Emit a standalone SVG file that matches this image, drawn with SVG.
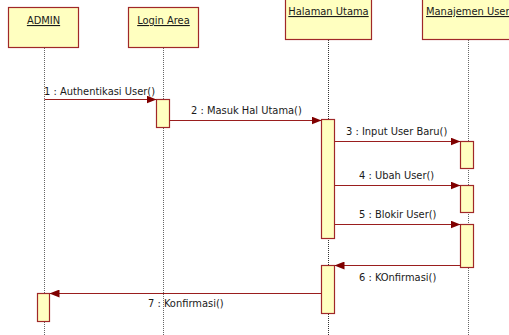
<svg xmlns="http://www.w3.org/2000/svg" width="509" height="335" viewBox="0 0 509 335">
  <style>
    .obj { fill: #FFFFC0; stroke: #A02828; stroke-width: 1.2; }
    .act { fill: #FFFFC0; stroke: #A02828; stroke-width: 1.2; }
    .life { stroke: #666; stroke-width: 1; stroke-dasharray: 1 1; fill: none; }
    .msg { stroke: #9A1E1E; stroke-width: 1; fill: none; }
    .t { font-family: Tahoma, "DejaVu Sans Condensed", "Liberation Sans", sans-serif; font-size: 11px; fill: #1a1a1a; }
    .name { text-decoration: underline; }
  </style>
  <defs>
    <marker id="head" viewBox="0 0 10 8" refX="10" refY="4" markerWidth="10" markerHeight="8" markerUnits="userSpaceOnUse" orient="auto">
      <path d="M0,0 L10,4 L0,8 Z" fill="#800000"/>
    </marker>
  </defs>

  <!-- lifelines -->
  <g id="lifelines">
    <line class="life" x1="44.5" y1="48" x2="44.5" y2="335"/>
    <line class="life" x1="163.5" y1="48" x2="163.5" y2="335"/>
    <line class="life" x1="328.5" y1="40" x2="328.5" y2="335" style="stroke:#333"/>
    <line class="life" x1="468.5" y1="40" x2="468.5" y2="335"/>
  </g>

  <!-- objects -->
  <g id="admin">
    <rect class="obj" x="8.5" y="7.5" width="70" height="40"/>
    <text class="t name" x="43.5" y="24" text-anchor="middle">ADMIN</text>
    <rect class="act" x="37.5" y="293.5" width="12" height="28"/>
  </g>
  <g id="login-area">
    <rect class="obj" x="128.5" y="7.5" width="70" height="40"/>
    <text class="t name" x="163.5" y="24" text-anchor="middle">Login Area</text>
    <rect class="act" x="156.5" y="99.5" width="13" height="28"/>
  </g>
  <g id="halaman-utama">
    <rect class="obj" x="285.5" y="-4.5" width="86" height="44"/>
    <text class="t name" x="328.5" y="15" text-anchor="middle">Halaman Utama</text>
    <rect class="act" x="321.5" y="119.5" width="13" height="119"/>
    <rect class="act" x="321.5" y="265.5" width="13" height="48"/>
  </g>
  <g id="manajemen-user">
    <rect class="obj" x="422.5" y="-4.5" width="100" height="44"/>
    <text class="t name" x="426" y="15">Manajemen User</text>
    <rect class="act" x="460.5" y="141.5" width="13" height="27"/>
    <rect class="act" x="460.5" y="185.5" width="13" height="27"/>
    <rect class="act" x="460.5" y="224.5" width="13" height="43"/>
  </g>

  <!-- messages -->
  <g id="connectors">
    <line class="msg" x1="44.5" y1="99.5" x2="156.5" y2="99.5" marker-end="url(#head)"/>
    <line class="msg" x1="169.5" y1="120.5" x2="321.5" y2="120.5" marker-end="url(#head)"/>
    <line class="msg" x1="334.5" y1="141.5" x2="460.5" y2="141.5" marker-end="url(#head)"/>
    <line class="msg" x1="334.5" y1="185.5" x2="460.5" y2="185.5" marker-end="url(#head)"/>
    <line class="msg" x1="334.5" y1="224.5" x2="460.5" y2="224.5" marker-end="url(#head)"/>
    <line class="msg" x1="460.5" y1="265.5" x2="334.5" y2="265.5" marker-end="url(#head)"/>
    <line class="msg" x1="321.5" y1="293.5" x2="49.5" y2="293.5" marker-end="url(#head)"/>

    <text class="t" x="44" y="95">1 : Authentikasi User()</text>
    <text class="t" x="191" y="114">2 : Masuk Hal Utama()</text>
    <text class="t" x="346" y="135">3 : Input User Baru()</text>
    <text class="t" x="359" y="179">4 : Ubah User()</text>
    <text class="t" x="359" y="218">5 : Blokir User()</text>
    <text class="t" x="359" y="281">6 : KOnfirmasi()</text>
    <text class="t" x="148" y="307">7 : Konfirmasi()</text>
  </g>
</svg>
